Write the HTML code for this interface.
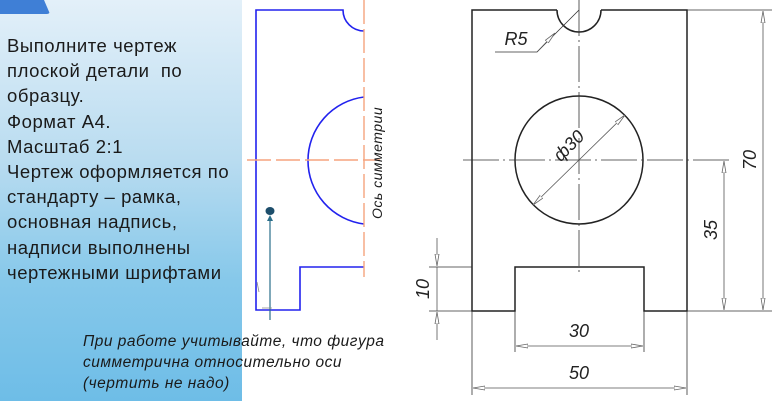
<!DOCTYPE html>
<html><head><meta charset="utf-8"><style>
html,body{margin:0;padding:0;width:784px;height:401px;overflow:hidden;background:#fff;font-family:"Liberation Sans",sans-serif;}
#left{position:absolute;left:0;top:0;width:242px;height:401px;background:linear-gradient(180deg,#e3f0f9 0%,#b9dcf0 40%,#86c8ea 70%,#6ebde7 100%);}
#tab{position:absolute;left:0;top:0;width:50px;height:14px;background:#3f7fd6;clip-path:polygon(0 0,88% 0,100% 100%,0 100%);border-radius:0 0 3px 0;}
#txt{position:absolute;left:7px;top:33px;font-size:18.5px;line-height:25.2px;letter-spacing:0.55px;color:#1a1a1a;white-space:nowrap;}
#note{position:absolute;left:83px;top:331px;font-size:15.5px;line-height:21px;letter-spacing:0.5px;font-style:italic;color:#1a1a1a;white-space:nowrap;}
svg{position:absolute;left:0;top:0;}
</style></head><body>
<div id="left"><div id="tab"></div>
<div id="txt">Выполните чертеж<br>плоской детали&nbsp; по<br>образцу.<br>Формат А4.<br>Масштаб 2:1<br>Чертеж оформляется по<br>стандарту – рамка,<br>основная надпись,<br>надписи выполнены<br>чертежными шрифтами</div>
</div>
<svg width="784" height="401" viewBox="0 0 784 401">
<defs>
<marker id="a" viewBox="0 0 12 6" refX="12" refY="3" markerWidth="12" markerHeight="6" orient="auto" markerUnits="userSpaceOnUse"><path d="M0,1 L12,3 L0,5 Z" fill="#fff" stroke="#666" stroke-width="0.8"/></marker>
</defs>
<g fill="none" stroke="#2222ee" stroke-width="1.6">
<path d="M364,31 A21,21 0 0 1 343,10 L256,10 L256,310 L300,310 L300,267 L364,267"/>
<path d="M364,97 A64,64 0 0 0 364,224"/>
</g>
<g stroke="#f5a47e" stroke-width="1.4" fill="none">
<line x1="364" y1="0" x2="364" y2="277" stroke-dasharray="24,5"/>
<line x1="247" y1="160" x2="380" y2="160" stroke-dasharray="24,5"/>
</g>
<text transform="translate(382,219) rotate(-90)" font-size="14" font-style="italic" fill="#1a1a1a" font-family="Liberation Sans,sans-serif" letter-spacing="0.5">Ось симметрии</text>
<line x1="270" y1="320" x2="270" y2="218" stroke="#2a6e8a" stroke-width="1.2"/>
<path d="M267,221 L270,215 L273,221Z" fill="#2a6e8a"/>
<ellipse cx="270" cy="211" rx="4.5" ry="4" fill="#1d4e6b"/>
<g stroke="#888" stroke-width="0.8" fill="none"><path d="M257,282 L259,292 M262,308 L272,308"/></g>
<g fill="none" stroke="#222" stroke-width="1.5">
<path d="M557,10 L472,10 L472,311 L515,311 L515,267 L644,267 L644,311 L687,311 L687,10 L601,10"/>
<path d="M557,10 A22,22 0 0 0 601,10"/>
<circle cx="579" cy="160" r="64"/>
</g>
<g stroke="#333" stroke-width="0.8" fill="none">
<line x1="579" y1="0" x2="579" y2="275" stroke-dasharray="36,4,2,4"/>
<line x1="463" y1="160" x2="733" y2="160" stroke-dasharray="36,4,2,4"/>
<path d="M495,52 L537,52 L579,10"/>
<line x1="687" y1="10" x2="772" y2="10"/>
<line x1="687" y1="311" x2="772" y2="311"/>
<line x1="429" y1="267" x2="472" y2="267"/>
<line x1="429" y1="311" x2="472" y2="311"/>
<line x1="515" y1="311" x2="515" y2="352"/>
<line x1="644" y1="311" x2="644" y2="352"/>
<line x1="472" y1="311" x2="472" y2="395"/>
<line x1="687" y1="311" x2="687" y2="395"/>
</g>
<g stroke="#555" stroke-width="0.8" fill="none">
<line x1="763" y1="160" x2="763" y2="11" marker-end="url(#a)"/>
<line x1="763" y1="160" x2="763" y2="310" marker-end="url(#a)"/>
<line x1="724" y1="235" x2="724" y2="161" marker-end="url(#a)"/>
<line x1="724" y1="235" x2="724" y2="310" marker-end="url(#a)"/>
<line x1="437" y1="238" x2="437" y2="266" marker-end="url(#a)"/>
<line x1="437" y1="340" x2="437" y2="312" marker-end="url(#a)"/>
<line x1="437" y1="267" x2="437" y2="311"/>
<line x1="579" y1="346" x2="516" y2="346" marker-end="url(#a)"/>
<line x1="579" y1="346" x2="643" y2="346" marker-end="url(#a)"/>
<line x1="579" y1="388" x2="473" y2="388" marker-end="url(#a)"/>
<line x1="579" y1="388" x2="686" y2="388" marker-end="url(#a)"/>
<line x1="579" y1="160" x2="625" y2="115" marker-end="url(#a)"/>
<line x1="579" y1="160" x2="533" y2="205" marker-end="url(#a)"/>
<line x1="537" y1="52" x2="555" y2="33" marker-end="url(#a)"/>
</g>
<g font-family="Liberation Sans,sans-serif" font-style="italic" font-size="18" fill="#222" text-anchor="middle">
<text x="516" y="45">R5</text>
<text x="579" y="337">30</text>
<text x="579" y="379">50</text>
<text transform="translate(756,160) rotate(-90)">70</text>
<text transform="translate(717,230) rotate(-90)">35</text>
<text transform="translate(429,289) rotate(-90)">10</text>
<text transform="translate(573,150) rotate(-45)">ф30</text>
</g>
</svg>
<div id="note">При работе учитывайте, что фигура<br>симметрична относительно оси<br>(чертить не надо)</div>
</body></html>
